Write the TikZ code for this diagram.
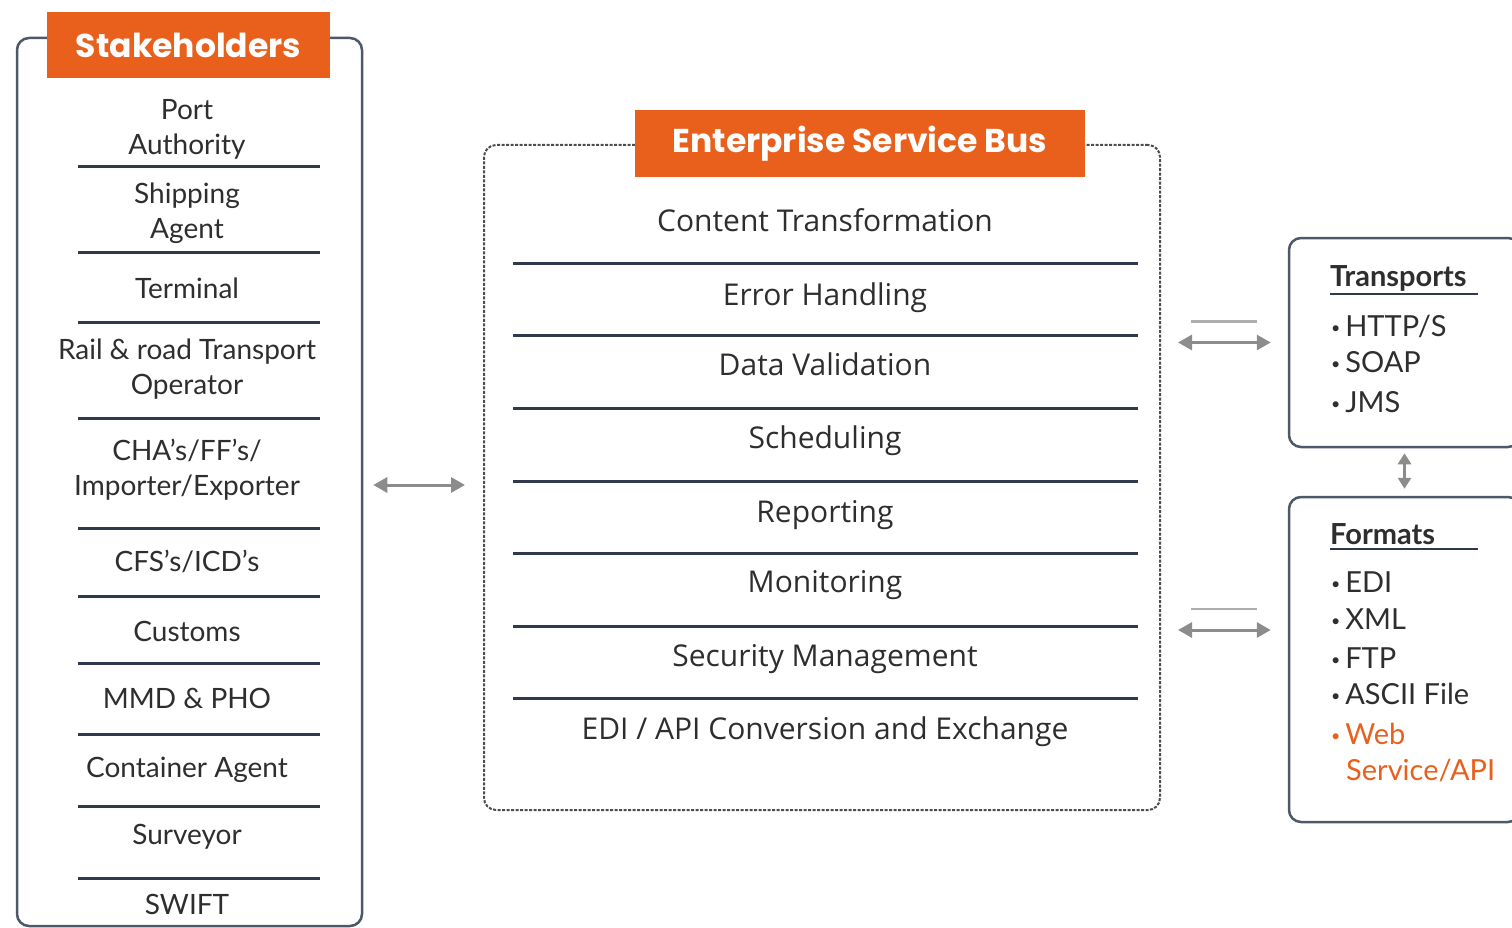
\documentclass[tikz,border=0pt]{standalone}
\usepackage{fontspec}
\setmainfont{Lato}
\newfontfamily\esbfont{Open Sans}
\newfontfamily\hdrfont{Poppins}
\usetikzlibrary{positioning, arrows.meta}
\definecolor{hdrorange}{HTML}{E8601C}
\definecolor{linenavy}{HTML}{2F3B4C}
\definecolor{arrgray}{HTML}{8C8C8C}
\definecolor{txtgray}{HTML}{2E2E2E}
\newcommand{\blt}{{\fontsize{16}{16}\selectfont\raisebox{3pt}{•}}\,}

\begin{document}
\begin{tikzpicture}[x=1pt, y=-1pt,
    hdr/.style={fill=hdrorange, text=white, inner sep=0pt, font=\hdrfont\fontsize{33}{38}\selectfont\bfseries},
    frame/.style={draw=linenavy!85, line width=2.5pt, rounded corners=12pt, inner sep=0pt},
    sepline/.style={draw=linenavy, line width=3pt},
    stkitem/.style={font=\fontsize{28}{35}\selectfont, align=center, text=txtgray},
    esbitem/.style={font=\esbfont\fontsize{30}{35}\selectfont, text=txtgray, anchor=base},
    lstitem/.style={font=\fontsize{29}{33}\selectfont, anchor=west, text=txtgray, inner sep=0pt},
    arr/.style={{Triangle[width=15pt,length=14pt]}-{Triangle[width=15pt,length=14pt]}, draw=arrgray, line width=3pt},
    smallarr/.style={{Triangle[width=13pt,length=11pt]}-{Triangle[width=13pt,length=11pt]}, draw=arrgray, line width=3pt}]
    \useasboundingbox (0,0) rectangle (1512,928);

    % stakeholders
    \node[frame, minimum width=345pt, minimum height=888pt] (stake) at (189.5,482) {};
    \node[hdr, minimum width=283pt, minimum height=66pt] (stakehdr) at (188.5,45) {Stakeholders};
    \foreach \y/\t [count=\i] in {129/{Port\\Authority}, 213/{Shipping\\Agent}, 288/Terminal,
        369/{Rail \& road Transport\\Operator}, 470/{CHA's/FF's/\\Importer/Exporter}, 561/{CFS's/ICD's},
        631/Customs, 698/{MMD \& PHO}, 770/{Container Agent}, 837/Surveyor, 904/SWIFT}
        \node[stkitem] (stk\i) at (187,\y) {\t};
    \foreach \y in {167,252,322,418,528,596,663,734,806,878}
        \draw[sepline] (78,\y) -- (320,\y);

    % enterprise service bus
    \node[frame, draw=black!70, line width=2pt, dash pattern=on 3pt off 1.5pt, minimum width=676pt, minimum height=665pt] (esb) at (822,477.5) {};
    \node[hdr, minimum width=450pt, minimum height=67pt] (esbhdr) at (860,143.5) {Enterprise Service Bus};
    \foreach \y/\t [count=\i] in {231/{Content Transformation}, 305/{Error Handling}, 375/{Data Validation},
        448/Scheduling, 522/Reporting, 592/Monitoring, 666/{Security Management}, 739/{EDI / API Conversion and Exchange}}
        \node[esbitem] (esb\i) at (825,\y) {\t};
    \foreach \y in {263,335,408,481,553,626,698}
        \draw[sepline] (513,\y) -- (1138,\y);

    % transports and formats
    \node[frame, minimum width=231pt, minimum height=209pt] (tr) at (1404.5,342.5) {};
    \node[frame, minimum width=231pt, minimum height=325pt] (fm) at (1404.5,659.5) {};
    \node[lstitem, font=\fontsize{29}{33}\selectfont\bfseries] (trhead) at (1330,278) {Transports};
    \draw[linenavy, line width=2pt] (1330,294) -- (1478,294);
    \foreach \y/\t [count=\i] in {326/{HTTP/S}, 362/SOAP, 402/JMS}
        \node[lstitem] (tr\i) at (1331,\y) {\blt\t};
    \node[lstitem, font=\fontsize{29}{33}\selectfont\bfseries] (fmhead) at (1330,534) {Formats};
    \draw[linenavy, line width=2pt] (1330,549) -- (1478,549);
    \foreach \y/\t [count=\i] in {582/EDI, 619/XML, 658/FTP, 694/{ASCII File}}
        \node[lstitem] (fm\i) at (1331,\y) {\blt\t};
    \node[lstitem, text=hdrorange] (fm5) at (1331,734) {\blt Web};
    \node[lstitem, text=hdrorange] (fm6) at (1346,770) {Service/API};

    % connectors
    \coordinate[yshift=-3pt] (stkport) at (stake.east);
    \coordinate (trport) at (tr.west);
    \coordinate[yshift=29.5pt] (fmport) at (fm.west);
    \coordinate (trbus) at (trport -| esb.east);
    \coordinate (fmbus) at (fmport -| esb.east);
    \draw[arr, shorten <=10pt, shorten >=18pt] (stkport) -- (stkport -| esb.west);
    \draw[arr, shorten <=17pt, shorten >=17pt] (trbus) -- (trport);
    \draw[arr, shorten <=17pt, shorten >=17pt] (fmbus) -- (fmport);
    \draw[smallarr, shorten <=5pt, shorten >=7pt] (tr.south) -- (fm.north);
    \draw[arrgray!70, line width=2.5pt] ([xshift=30pt,yshift=21pt]trbus) -- ([xshift=-31pt,yshift=21pt]trport);
    \draw[arrgray!70, line width=2.5pt] ([xshift=30pt,yshift=21pt]fmbus) -- ([xshift=-31pt,yshift=21pt]fmport);
\end{tikzpicture}
\end{document}
